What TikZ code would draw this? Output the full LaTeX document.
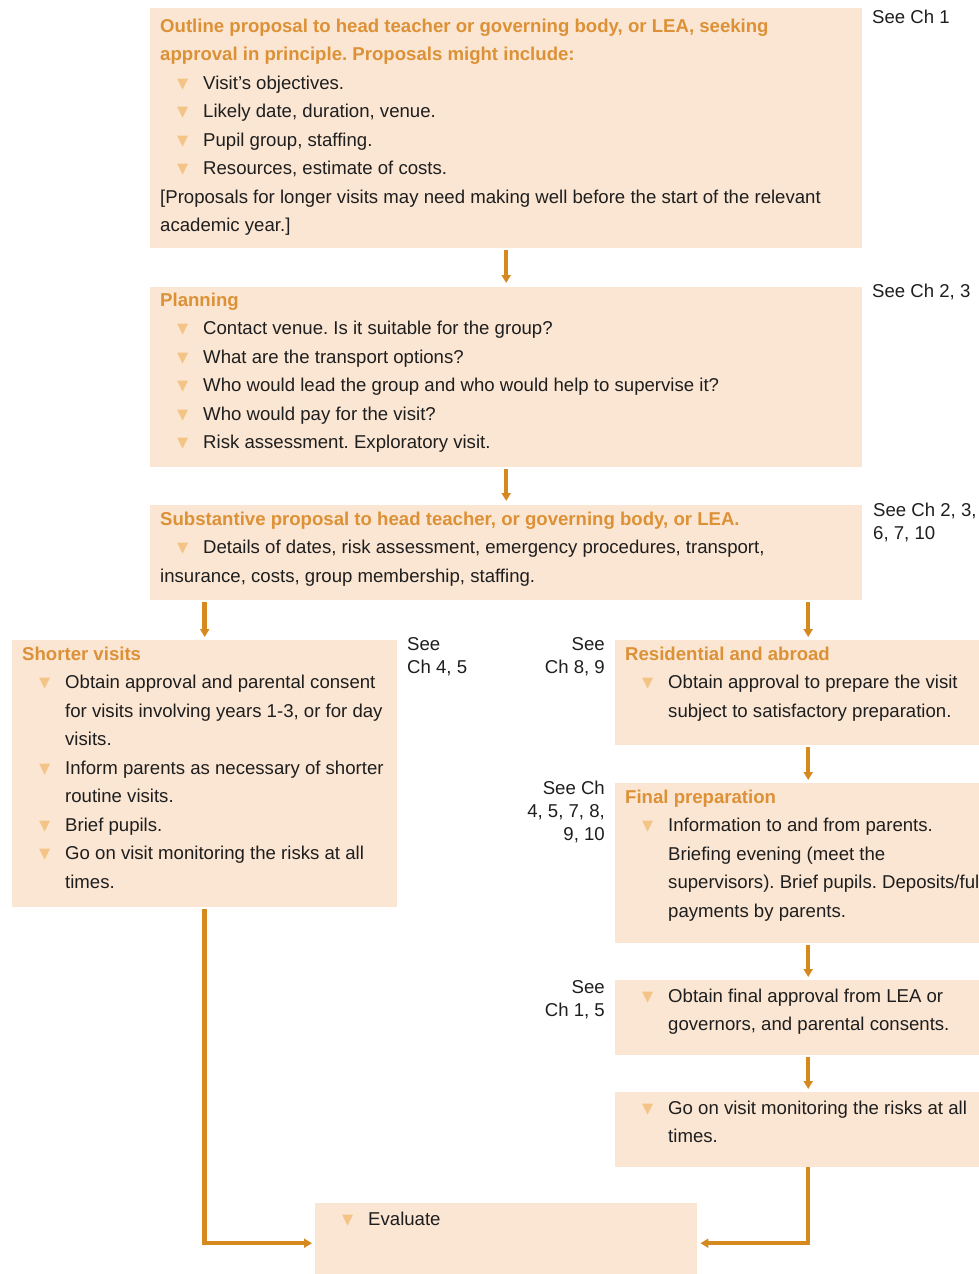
\documentclass[tikz,border=0pt]{standalone}
\usepackage{fontspec}
\setmainfont{Liberation Sans}
\newfontfamily\symfont{DejaVu Sans}
\usetikzlibrary{positioning,arrows.meta}

\definecolor{boxfill}{RGB}{251,230,211}
\definecolor{headc}{RGB}{220,145,55}
\definecolor{flowc}{RGB}{214,137,30}
\definecolor{bulc}{RGB}{244,196,135}
\definecolor{inkc}{RGB}{30,30,30}

% bullet, list item, heading and fixed-size panel
\newcommand{\tri}{\raisebox{1pt}{\symfont\fontsize{14.5}{14.5}\selectfont\textcolor{bulc}{▼}}}
\newcommand{\bul}[1]{\par{\leftskip=43pt\noindent\llap{\makebox[26pt][l]{\tri}}#1\par}}
\newcommand{\head}[2]{\noindent\rule{0pt}{#1}\textbf{\textcolor{headc}{#2}}}
\newcommand{\panel}[3]{\parbox[t][#1][t]{#2}{\raggedright\frenchspacing\parskip=0pt #3}}

\tikzset{
  panelbox/.style={fill=boxfill, inner xsep=10pt, inner ysep=0pt, anchor=north west,
    text=inkc, font=\fontsize{18.6}{28.5}\selectfont},
  seeref/.style={inner sep=0pt, text=inkc, font=\fontsize{18.6}{23}\selectfont},
  flow/.style={draw=flowc, line width=4.5pt, -{Triangle[width=9pt,length=8pt]}},
}

\begin{document}
\begin{tikzpicture}[x=1pt, y=-1pt]
  \useasboundingbox (0,0) rectangle (979,1274);
  \clip (0,0) rectangle (979,1274);

  % main column
  \node[panelbox] (outline) at (150,8) {\panel{240pt}{692pt}{%
    \head{24pt}{Outline proposal to head teacher or governing body, or LEA, seeking\\
      approval in principle. Proposals might include:}
    \bul{Visit's objectives.}
    \bul{Likely date, duration, venue.}
    \bul{Pupil group, staffing.}
    \bul{Resources, estimate of costs.}
    \noindent [Proposals for longer visits may need making well before the start of the relevant\\
    academic year.]}};
  \node[panelbox] (planning) at (150,287) {\panel{180pt}{692pt}{%
    \head{19pt}{Planning}
    \bul{Contact venue. Is it suitable for the group?}
    \bul{What are the transport options?}
    \bul{Who would lead the group and who would help to supervise it?}
    \bul{Who would pay for the visit?}
    \bul{Risk assessment. Exploratory visit.}}};
  \node[panelbox] (substantive) at (150,505) {\panel{95pt}{692pt}{%
    \head{20pt}{Substantive proposal to head teacher, or governing body, or LEA.}
    \par\noindent\hspace*{17pt}\makebox[26pt][l]{\tri}Details of dates, risk assessment, emergency procedures, transport,\\
    insurance, costs, group membership, staffing.}};

  % left branch
  \node[panelbox] (shorter) at (12,640) {\panel{267pt}{365pt}{%
    \head{20pt}{Shorter visits}
    \bul{Obtain approval and parental consent\\for visits involving years 1-3, or for day\\visits.}
    \bul{Inform parents as necessary of shorter\\routine visits.}
    \bul{Brief pupils.}
    \bul{Go on visit monitoring the risks at all\\times.}}};

  % right branch
  \node[panelbox] (residential) at (615,640) {\panel{105pt}{366pt}{%
    \head{20pt}{Residential and abroad}
    \bul{Obtain approval to prepare the visit\\subject to satisfactory preparation.}}};
  \node[panelbox] (finalprep) at (615,783) {\panel{160pt}{366pt}{%
    \head{20pt}{Final preparation}
    \bul{Information to and from parents.\\Briefing evening (meet the\\supervisors). Brief pupils. Deposits/full\\payments by parents.}}};
  \node[panelbox] (approval) at (615,980) {\panel{75pt}{366pt}{%
    \bul{\rule{0pt}{22pt}Obtain final approval from LEA or\\governors, and parental consents.}}};
  \node[panelbox] (goon) at (615,1092) {\panel{75pt}{366pt}{%
    \bul{\rule{0pt}{22pt}Go on visit monitoring the risks at all\\times.}}};

  \node[panelbox] (evaluate) at (315,1203) {\panel{80pt}{362pt}{%
    \bul{\rule{0pt}{22pt}Evaluate}}};

  % chapter references
  \node[seeref, anchor=north west] (ref1) at (872,10) {See Ch 1};
  \node[seeref, anchor=north west] (ref2) at (872,284) {See Ch 2, 3};
  \node[seeref, anchor=north west, align=left] (ref3) at (873,503) {See Ch 2, 3,\\6, 7, 10};
  \node[seeref, anchor=north west, align=left] (ref4) at (407,637) {See\\Ch 4, 5};
  \node[seeref, anchor=north east, align=right] (ref5) at (605,637) {See\\Ch 8, 9};
  \node[seeref, anchor=north east, align=right] (ref6) at (605,781) {See Ch\\4, 5, 7, 8,\\9, 10};
  \node[seeref, anchor=north east, align=right] (ref7) at (605,980) {See\\Ch 1, 5};

  % connectors
  \draw[flow] ([yshift=-2pt]outline.south) -- ([yshift=4pt]planning.north);
  \draw[flow] ([yshift=-2pt]planning.south) -- ([yshift=4pt]substantive.north);
  \draw[flow] ([yshift=-2pt]substantive.south -| shorter.north) -- ([yshift=3pt]shorter.north);
  \draw[flow] ([yshift=-2pt]substantive.south -| residential.north) -- ([yshift=3pt]residential.north);
  \draw[flow] ([yshift=-2pt]residential.south) -- ([yshift=3pt]finalprep.north);
  \draw[flow] ([yshift=-2pt]finalprep.south) -- ([yshift=3pt]approval.north);
  \draw[flow] ([yshift=-2pt]approval.south) -- ([yshift=3pt]goon.north);
  \draw[flow] ([yshift=-2pt]shorter.south) |- ([xshift=-3pt]evaluate.west);
  \draw[flow] (goon.south) |- ([xshift=3pt]evaluate.east);
\end{tikzpicture}
\end{document}
